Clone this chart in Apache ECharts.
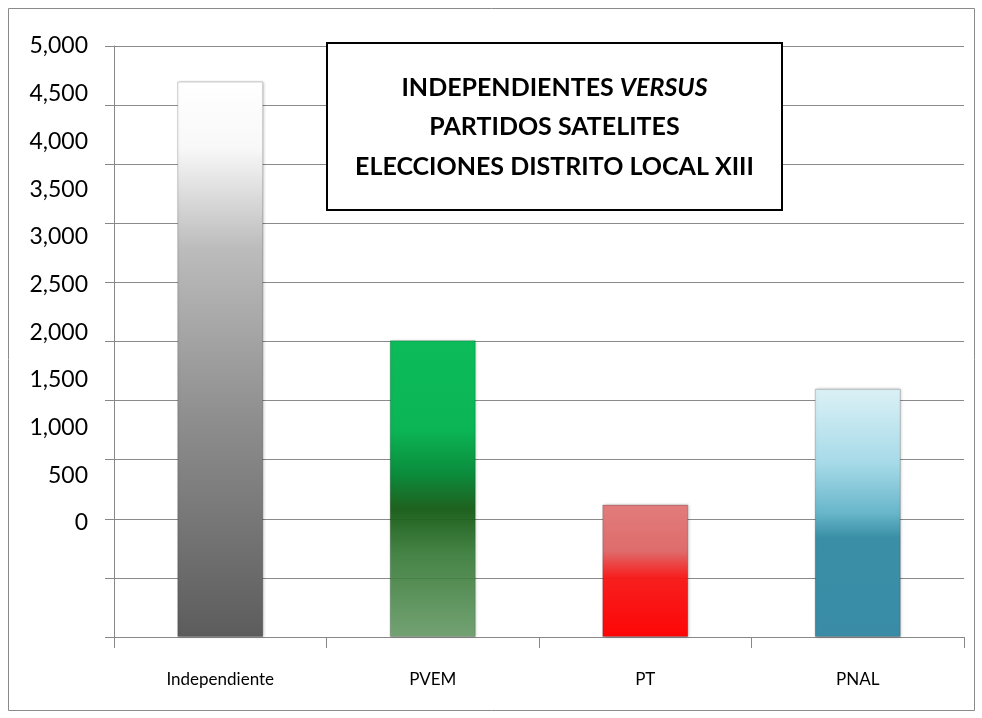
<!DOCTYPE html>
<html>
<head>
<meta charset="utf-8">
<title>Independientes versus partidos satelites</title>
<script src="https://cdn.jsdelivr.net/npm/echarts@6/dist/echarts.min.js"></script>
<style>
  html, body { margin: 0; padding: 0; background: #fff; }
  #chart { width: 982px; height: 718px; }
</style>
</head>
<body>
<div id="chart"></div>
<script>
// datos
var categories = ['Independiente', 'PVEM', 'PT', 'PNAL'];
var votes = [4700, 2510, 1120, 2100];
var tickLabels = [0, 500, 1000, 1500, 2000, 2500, 3000, 3500, 4000, 4500, 5000];
var titleLines = ['INDEPENDIENTES ', 'VERSUS', 'PARTIDOS SATELITES', 'ELECCIONES DISTRITO LOCAL XIII'];

// degradados de cada barra
var barStops = [
	[
		{offset: 0, color: '#ffffff'},
		{offset: 0.12, color: '#f8f8f8'},
		{offset: 0.3, color: '#bcbcbc'},
		{offset: 0.6, color: '#8f8f8f'},
		{offset: 1, color: '#5c5c5c'}
	],
	[
		{offset: 0, color: '#0cbb5a'},
		{offset: 0.3, color: '#0bb556'},
		{offset: 0.45, color: '#0b8c3c'},
		{offset: 0.57, color: 'rgba(22,92,22,0.95)'},
		{offset: 0.72, color: 'rgba(52,122,52,0.88)'},
		{offset: 1, color: 'rgba(106,158,106,0.9)'}
	],
	[
		{offset: 0, color: '#e27c7c'},
		{offset: 0.35, color: '#df6c6c'},
		{offset: 0.55, color: 'rgba(250,22,22,0.95)'},
		{offset: 1, color: 'rgba(255,0,0,0.97)'}
	],
	[
		{offset: 0, color: '#dbf1f6'},
		{offset: 0.3, color: '#a6dae8'},
		{offset: 0.5, color: '#68b6ca'},
		{offset: 0.6, color: '#3a8fa6'},
		{offset: 1, color: '#3a8ca6'}
	]
];

var chart = echarts.init(document.getElementById('chart'));

var option = {
	backgroundColor: '#fff',
	animation: false,
	grid: {left: 114, right: 18, top: 46, bottom: 81},
	xAxis: {
		type: 'category',
		data: categories,
		boundaryGap: true,
		axisLine: {show: true, lineStyle: {color: '#888', width: 1}},
		axisTick: {show: true, length: 11, alignWithLabel: false, lineStyle: {color: '#888'}},
		axisLabel: {
			margin: 34,
			color: '#000',
			fontSize: 17,
			fontFamily: 'Lato, sans-serif'
		}
	},
	yAxis: [
		{
			// eje real: lineas de la cuadricula
			type: 'value',
			min: 0,
			max: 5000,
			interval: 500,
			axisLine: {show: true, lineStyle: {color: '#888', width: 1}},
			axisTick: {show: true, length: 9, lineStyle: {color: '#888'}},
			axisLabel: {show: false},
			splitLine: {show: true, lineStyle: {color: '#8a8a8a', width: 1}}
		},
		{
			// etiquetas desplazadas como en el original
			type: 'value',
			position: 'left',
			min: -1195,
			max: 5000,
			axisLine: {show: false},
			axisTick: {show: false},
			splitLine: {show: false},
			axisLabel: {
				customValues: tickLabels,
				margin: 26,
				color: '#000',
				fontSize: 23,
				fontFamily: 'Lato, sans-serif',
				formatter: function (v) {
					return v.toLocaleString('en-US');
				}
			}
		}
	],
	series: [
		{
			name: 'Votos',
			type: 'bar',
			yAxisIndex: 0,
			barWidth: 86,
			itemStyle: {
				borderColor: 'rgba(0,0,0,0.18)',
				borderWidth: 1,
				shadowBlur: 3,
				shadowColor: 'rgba(0,0,0,0.25)',
				shadowOffsetX: 1
			},
			data: votes.map(function (v, i) {
				return {
					value: v,
					itemStyle: {color: new echarts.graphic.LinearGradient(0, 0, 0, 1, barStops[i])}
				};
			})
		}
	],
	graphic: [
		{
			type: 'rect',
			silent: true,
			z: 0,
			shape: {x: 8.5, y: 8.5, width: 966, height: 702},
			style: {fill: 'none', stroke: '#8a8a8a', lineWidth: 1}
		},
		{
			type: 'rect',
			z: 100,
			shape: {x: 327, y: 43, width: 455, height: 167},
			style: {fill: '#fff', stroke: '#000', lineWidth: 2}
		},
		{
			type: 'text',
			z: 101,
			x: 554.5,
			y: 127,
			style: {
				text: '{b|' + titleLines[0] + '}{bi|' + titleLines[1] + '}\n{b|' + titleLines[2] + '}\n{b|' + titleLines[3] + '}',
				align: 'center',
				verticalAlign: 'middle',
				rich: {
					b: {fontFamily: 'Lato, sans-serif', fontWeight: 'bold', fontSize: 25, lineHeight: 39.5, fill: '#000'},
					bi: {fontFamily: 'Lato, sans-serif', fontWeight: 'bold', fontStyle: 'italic', fontSize: 25, lineHeight: 39.5, fill: '#000'}
				}
			}
		}
	]
};

chart.setOption(option);
</script>
</body>
</html>
